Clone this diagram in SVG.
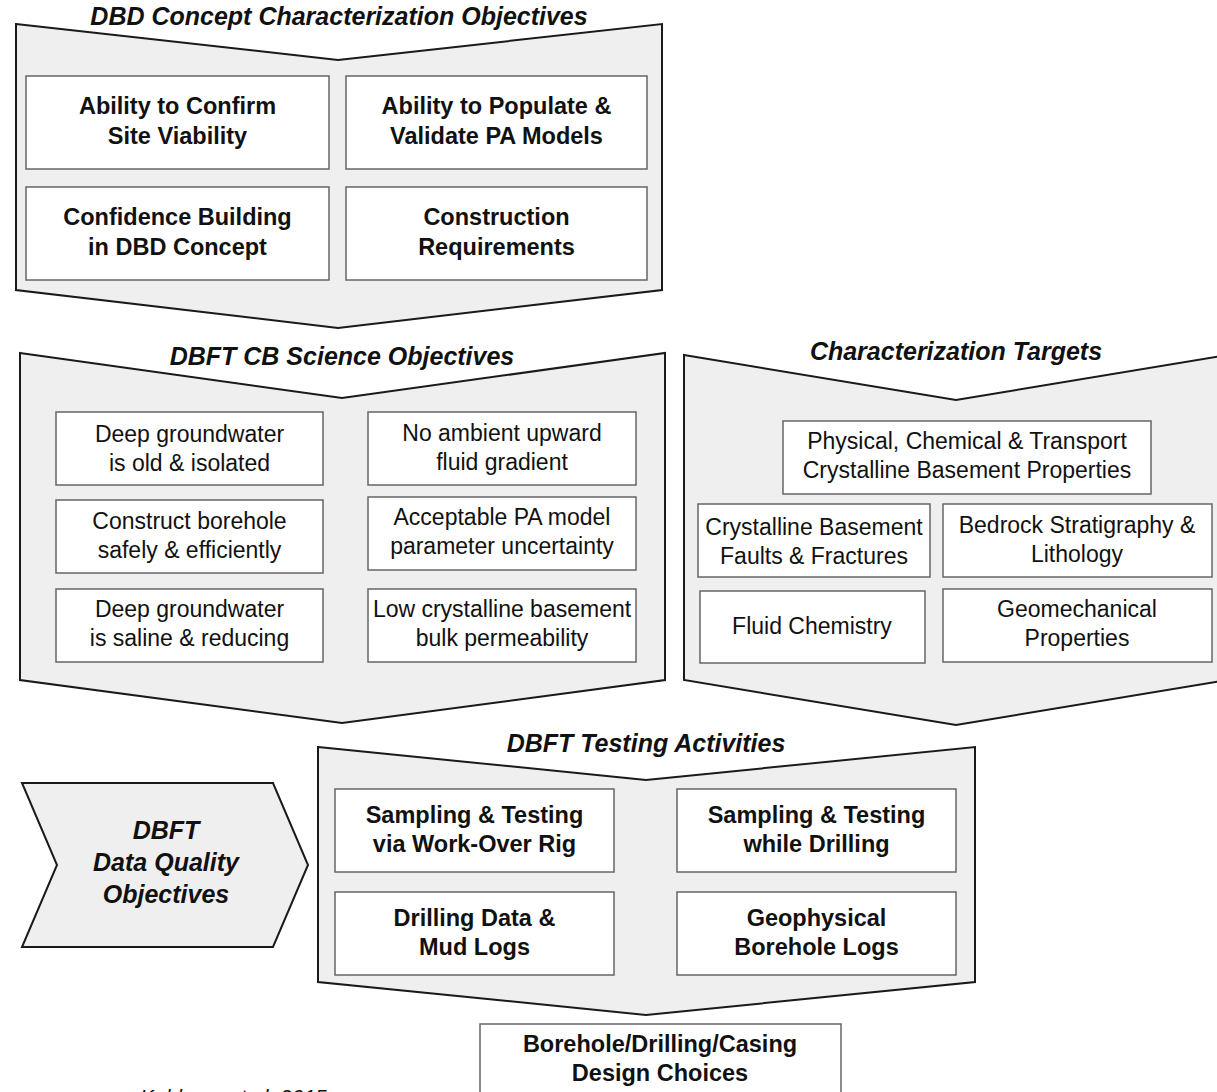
<svg xmlns="http://www.w3.org/2000/svg" width="1217" height="1092" viewBox="0 0 1217 1092">
<style>
.chev{fill:#efefef;stroke:#1a1a1a;stroke-width:2;stroke-linejoin:miter}
.box{fill:#ffffff;stroke:#666666;stroke-width:1.5}
.title{font-family:"Liberation Sans",Arial,sans-serif;font-weight:bold;font-style:italic;font-size:25px;fill:#111;text-anchor:middle}
.b{font-family:"Liberation Sans",Arial,sans-serif;font-weight:bold;font-size:23.5px;fill:#111;text-anchor:middle}
.r{font-family:"Liberation Sans",Arial,sans-serif;font-size:23px;fill:#111;text-anchor:middle}
.cite{font-family:"Liberation Sans",Arial,sans-serif;font-style:italic;font-size:21px;fill:#111}
</style>
<rect width="1217" height="1092" fill="#ffffff"/>

<g id="dbd-concept">
<polygon class="chev" points="16,24 338,60 662,24 662,290 338,328 16,290"/>
<text class="title" x="339" y="25">DBD Concept Characterization Objectives</text>
<g id="confirm-site">
<rect class="box" x="26" y="76" width="303" height="93"/>
<text class="b" x="177.5" y="114">Ability to Confirm</text>
<text class="b" x="177.5" y="144">Site Viability</text>
</g>
<g id="populate-pa">
<rect class="box" x="346" y="76" width="301" height="93"/>
<text class="b" x="496.5" y="114">Ability to Populate &amp;</text>
<text class="b" x="496.5" y="144">Validate PA Models</text>
</g>
<g id="confidence">
<rect class="box" x="26" y="187" width="303" height="93"/>
<text class="b" x="177.5" y="225">Confidence Building</text>
<text class="b" x="177.5" y="255">in DBD Concept</text>
</g>
<g id="construction">
<rect class="box" x="346" y="187" width="301" height="93"/>
<text class="b" x="496.5" y="225">Construction</text>
<text class="b" x="496.5" y="255">Requirements</text>
</g>
</g>

<g id="science-objectives">
<polygon class="chev" points="20,353 342,398 665,353 665,680 342,723 20,680"/>
<text class="title" x="342" y="365">DBFT CB Science Objectives</text>
<g id="so1">
<rect class="box" x="56" y="412" width="267" height="73"/>
<text class="r" x="189.5" y="442">Deep groundwater</text>
<text class="r" x="189.5" y="471">is old &amp; isolated</text>
</g>
<g id="so2">
<rect class="box" x="368" y="412" width="268" height="73"/>
<text class="r" x="502" y="441">No ambient upward</text>
<text class="r" x="502" y="470">fluid gradient</text>
</g>
<g id="so3">
<rect class="box" x="56" y="500" width="267" height="73"/>
<text class="r" x="189.5" y="529">Construct borehole</text>
<text class="r" x="189.5" y="558">safely &amp; efficiently</text>
</g>
<g id="so4">
<rect class="box" x="368" y="497" width="268" height="73"/>
<text class="r" x="502" y="525">Acceptable PA model</text>
<text class="r" x="502" y="554">parameter uncertainty</text>
</g>
<g id="so5">
<rect class="box" x="56" y="589" width="267" height="73"/>
<text class="r" x="189.5" y="617">Deep groundwater</text>
<text class="r" x="189.5" y="646">is saline &amp; reducing</text>
</g>
<g id="so6">
<rect class="box" x="368" y="589" width="268" height="73"/>
<text class="r" x="502" y="617">Low crystalline basement</text>
<text class="r" x="502" y="646">bulk permeability</text>
</g>
</g>

<g id="char-targets">
<polygon class="chev" points="684,355 956,400 1228,355 1228,680 956,725 684,680"/>
<text class="title" x="956" y="360">Characterization Targets</text>
<g id="ct1">
<rect class="box" x="783" y="421" width="368" height="73"/>
<text class="r" x="967" y="449">Physical, Chemical &amp; Transport</text>
<text class="r" x="967" y="478">Crystalline Basement Properties</text>
</g>
<g id="ct2">
<rect class="box" x="698" y="504" width="232" height="73"/>
<text class="r" x="814" y="535">Crystalline Basement</text>
<text class="r" x="814" y="564">Faults &amp; Fractures</text>
</g>
<g id="ct3">
<rect class="box" x="943" y="504" width="269" height="73"/>
<text class="r" x="1077" y="533">Bedrock Stratigraphy &amp;</text>
<text class="r" x="1077" y="562">Lithology</text>
</g>
<g id="ct4">
<rect class="box" x="700" y="591" width="225" height="72"/>
<text class="r" x="812" y="634">Fluid Chemistry</text>
</g>
<g id="ct5">
<rect class="box" x="943" y="589" width="269" height="73"/>
<text class="r" x="1077" y="617">Geomechanical</text>
<text class="r" x="1077" y="646">Properties</text>
</g>
</g>

<g id="dqo">
<polygon class="chev" points="22,783 273,783 308,865 273,947 22,947 57,865"/>
<text class="title" x="166" y="839">DBFT</text>
<text class="title" x="166" y="871">Data Quality</text>
<text class="title" x="166" y="903">Objectives</text>
</g>

<g id="testing-activities">
<polygon class="chev" points="318,747 646,780 975,747 975,982 646,1015 318,982"/>
<text class="title" x="646" y="752">DBFT Testing Activities</text>
<g id="ta1">
<rect class="box" x="335" y="789" width="279" height="83"/>
<text class="b" x="474.5" y="823">Sampling &amp; Testing</text>
<text class="b" x="474.5" y="852">via Work-Over Rig</text>
</g>
<g id="ta2">
<rect class="box" x="677" y="789" width="279" height="83"/>
<text class="b" x="816.5" y="823">Sampling &amp; Testing</text>
<text class="b" x="816.5" y="852">while Drilling</text>
</g>
<g id="ta3">
<rect class="box" x="335" y="892" width="279" height="83"/>
<text class="b" x="474.5" y="926">Drilling Data &amp;</text>
<text class="b" x="474.5" y="955">Mud Logs</text>
</g>
<g id="ta4">
<rect class="box" x="677" y="892" width="279" height="83"/>
<text class="b" x="816.5" y="926">Geophysical</text>
<text class="b" x="816.5" y="955">Borehole Logs</text>
</g>
</g>

<g id="design-choices">
<rect class="box" x="480" y="1024" width="361" height="90"/>
<text class="b" x="660" y="1052">Borehole/Drilling/Casing</text>
<text class="b" x="660" y="1081">Design Choices</text>
</g>

<g id="connectors"></g>

<text class="cite" x="140" y="1104">Kuhlman et al. 2015</text>
</svg>
